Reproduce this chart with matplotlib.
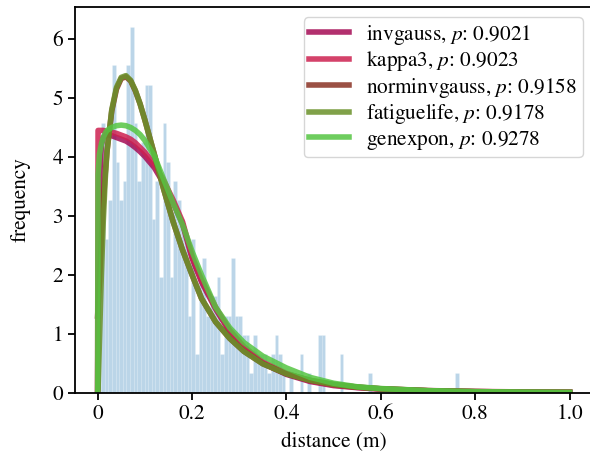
import numpy as np
import matplotlib
matplotlib.use('Agg')
import matplotlib.pyplot as plt

plt.rcParams['font.family'] = 'STIXGeneral'
plt.rcParams['mathtext.fontset'] = 'stix'
plt.rcParams['font.size'] = 15.3

# histogram of distances (counts per bin, 100 bins from 0 to max)
bin_counts = [5, 14, 8, 10, 17, 12, 10, 11, 17, 19,
              14, 11, 13, 16, 16, 9, 11, 6, 14, 12,
              6, 11, 10, 9, 8, 4, 8, 2, 6, 7,
              4, 5, 5, 6, 2, 4, 4, 7, 4, 4,
              3, 3, 1, 3, 2, 2, 2, 1, 2, 3,
              2, 1, 0, 1, 0, 0, 2, 0, 1, 0,
              0, 3, 3, 0, 0, 0, 0, 2, 0, 0,
              0, 0, 0, 0, 0, 1, 0, 0, 0, 0,
              0, 0, 0, 0, 0, 0, 0, 0, 0, 0,
              0, 0, 0, 0, 0, 0, 0, 0, 0, 1]
dist_max = 0.765

x_pdf = [0, 0.001, 0.004, 0.008, 0.012, 0.016, 0.02, 0.03, 0.04, 0.05,
         0.06, 0.07, 0.08, 0.09, 0.10, 0.12, 0.14, 0.16, 0.18, 0.20,
         0.22, 0.25, 0.28, 0.31, 0.35, 0.40, 0.45, 0.50, 0.55, 0.60,
         0.70, 0.80, 0.90, 1.0]

invgauss = [0, 1.5, 3.6, 4.2, 4.33, 4.37, 4.38, 4.36, 4.33, 4.3,
            4.27, 4.22, 4.16, 4.09, 4.01, 3.82, 3.55, 3.22, 2.86, 2.28,
            1.88, 1.42, 1.03, 0.76, 0.5, 0.31, 0.19, 0.12, 0.085, 0.06,
            0.032, 0.018, 0.011, 0.007]
kappa3 = [0, 4.45, 4.45, 4.45, 4.45, 4.44, 4.43, 4.42, 4.4, 4.37,
          4.34, 4.3, 4.24, 4.16, 4.08, 3.88, 3.6, 3.27, 2.9, 2.32,
          1.92, 1.45, 1.06, 0.78, 0.52, 0.33, 0.2, 0.13, 0.09, 0.065,
          0.036, 0.021, 0.013, 0.009]
norminvgauss = [1.3, 1.45, 1.9, 2.6, 3.2, 3.7, 4.1, 4.78, 5.15, 5.33,
                5.36, 5.29, 5.12, 4.9, 4.63, 4.05, 3.45, 2.9, 2.42, 2.0,
                1.6, 1.2, 0.92, 0.7, 0.49, 0.32, 0.21, 0.14, 0.095, 0.067,
                0.034, 0.018, 0.01, 0.006]
fatiguelife = [0, 0.05, 0.9, 2.0, 2.9, 3.6, 4.1, 4.8, 5.18, 5.35,
               5.38, 5.3, 5.13, 4.9, 4.63, 4.05, 3.45, 2.9, 2.42, 2.0,
               1.6, 1.2, 0.92, 0.7, 0.49, 0.32, 0.21, 0.14, 0.095, 0.065,
               0.032, 0.016, 0.008, 0.004]
genexpon = [0, 3.7, 4.05, 4.22, 4.33, 4.4, 4.45, 4.5, 4.53, 4.54,
            4.53, 4.5, 4.45, 4.38, 4.28, 4.02, 3.62, 3.22, 2.85, 2.4,
            2.0, 1.45, 1.1, 0.85, 0.62, 0.42, 0.26, 0.16, 0.1, 0.07,
            0.035, 0.018, 0.01, 0.006]

fits = ['invgauss', 'kappa3', 'norminvgauss', 'fatiguelife', 'genexpon']
p_values = [0.9021, 0.9023, 0.9158, 0.9178, 0.9278]
colors = ['#a50b55', '#cd2150', '#8a3123', '#6a9129', '#55c542']
pdfs = [invgauss, kappa3, norminvgauss, fatiguelife, genexpon]

fig = plt.figure(figsize=(5.9, 4.59), dpi=100)
ax = fig.add_axes([0.127, 0.1445, 0.8786, 0.841])

edges = np.linspace(0, dist_max, len(bin_counts) + 1)
ax.hist(edges[:-1], bins=edges, weights=bin_counts, density=True,
        color='C0', alpha=0.3, edgecolor='white', linewidth=0.4)

for name, p, c, y in zip(fits, p_values, colors, pdfs):
    ax.plot(x_pdf, y, color=c, lw=4, alpha=0.85,
            label='%s, $p$: %.4f' % (name, p))

ax.set_xlim(-0.048, 1.05)
ax.set_ylim(0, 6.55)
ax.set_xticks([0, 0.2, 0.4, 0.6, 0.8, 1.0])
ax.set_xticklabels(['0', '0.2', '0.4', '0.6', '0.8', '1.0'])
ax.set_yticks(range(7))
for s in ax.spines.values():
    s.set_linewidth(1.3)
ax.tick_params(width=1.3, length=5)
ax.set_xlabel('distance (m)', labelpad=6)
ax.set_ylabel('frequency', labelpad=16)
ax.legend(loc='upper right', handlelength=1.9, labelspacing=0.12,
          borderpad=0.25)

fig.savefig('out.png', dpi=100)
